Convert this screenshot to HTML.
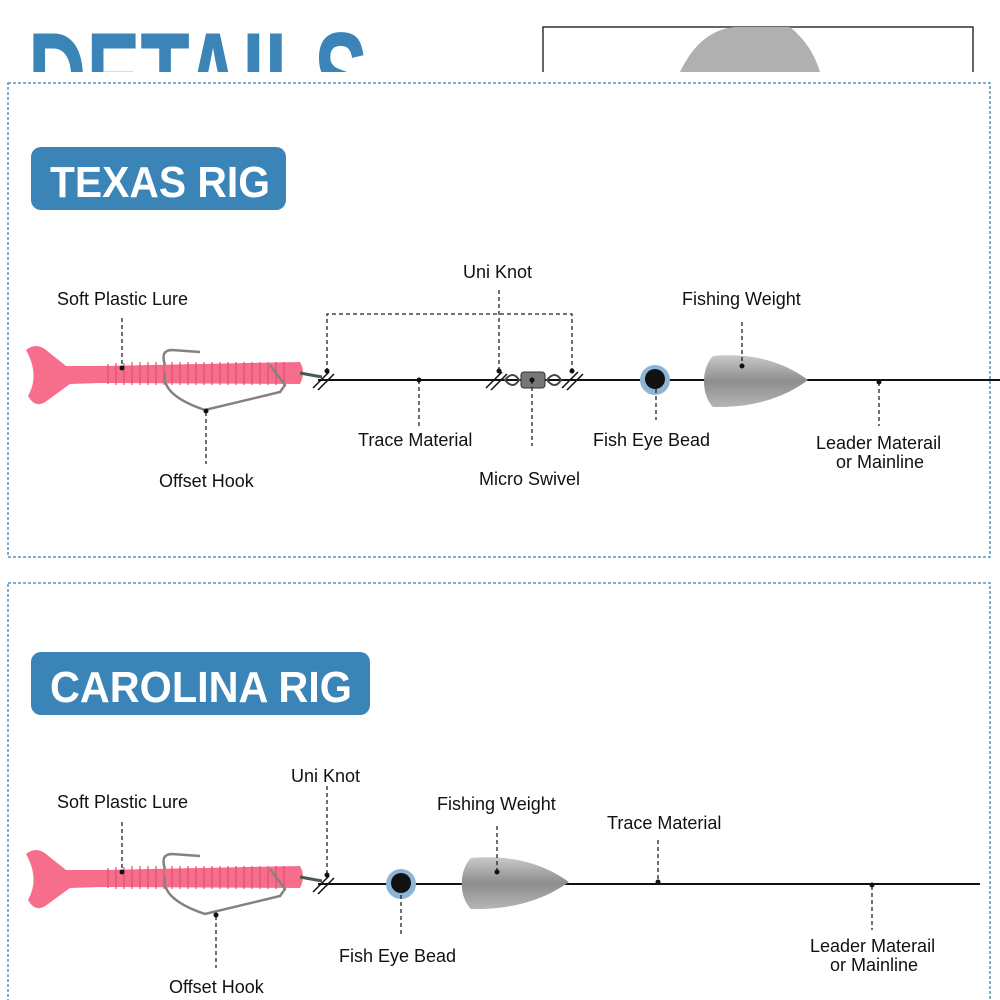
<!DOCTYPE html>
<html><head><meta charset="utf-8"><style>
html,body{margin:0;padding:0;background:#fff;width:1000px;height:1000px;overflow:hidden}
svg text{font-family:"Liberation Sans",Arial,sans-serif;font-size:18px;fill:#111}
.t{font-family:"Liberation Sans",sans-serif;font-weight:bold;fill:#fff;font-size:44px}
</style></head><body>
<svg width="1000" height="1000" viewBox="0 0 1000 1000" xmlns="http://www.w3.org/2000/svg">
<defs>
<linearGradient id="wg" x1="0" y1="0" x2="0" y2="1"><stop offset="0" stop-color="#c9c9c9"/><stop offset="0.5" stop-color="#8d8d8d"/><stop offset="1" stop-color="#b5b5b5"/></linearGradient>
<g id="lure">
<path d="M26,350 Q36,342 46,350 L66,366 L100,366 L300,362 Q306,372 300,384 L100,383 L70,384 L48,400 Q36,410 28,396 Q40,375 26,350Z" fill="#f76e8c"/>
<g stroke="#e04d70" stroke-width="1.2">
<path d="M108,364v20M116,363v22M124,363v22M132,362v23M140,362v23M148,362v23M156,362v23M164,362v23M172,362v23M180,362v23M188,362v23M196,362v23M204,362v23M212,362v23M220,362v23M228,362v23M236,362v23M244,362v23M252,362v23M260,362v23M268,362v23M276,362v23M284,362v23"/></g>
<path d="M165,365 Q160,350 172,350 L200,352 M165,372 Q160,395 205,410 L280,392 L285,385 L270,365" fill="none" stroke="#8a7f80" stroke-width="2.5"/>
<path d="M300,373 L322,377" stroke="#4a5a4a" stroke-width="3"/>
</g>
<path id="wt" d="M0,0 C45,-4 75,9 95,24 C75,39 45,52 0,51 C-12,39 -12,12 0,0Z"/>
</defs>
<rect width="1000" height="1000" fill="#fff"/>
<text x="28" y="100" style="font-family:'Liberation Sans',sans-serif;font-weight:bold;font-size:96px;fill:#3a84b8" textLength="340" lengthAdjust="spacingAndGlyphs" transform="scale(1,1.4) translate(0,-10)">DETAILS</text>
<rect x="543" y="27" width="430" height="60" fill="#fff" stroke="#333" stroke-width="1.5"/>
<path d="M680,72 Q700,30 735,27 L790,27 Q812,45 820,72Z" fill="#b0b0b0"/>
<rect x="0" y="72" width="1000" height="928" fill="#fff"/>
<rect x="8" y="83" width="982" height="474" fill="none" stroke="#5a93b8" stroke-width="1.5" stroke-dasharray="3,2"/>
<rect x="8" y="583" width="982" height="430" fill="none" stroke="#5a93b8" stroke-width="1.5" stroke-dasharray="3,2"/>
<rect x="31" y="147" width="255" height="63" rx="10" fill="#3a84b8"/>
<text class="t" x="50" y="197" textLength="220" lengthAdjust="spacingAndGlyphs">TEXAS RIG</text>
<rect x="31" y="652" width="339" height="63" rx="10" fill="#3a84b8"/>
<text class="t" x="50" y="702" textLength="302" lengthAdjust="spacingAndGlyphs">CAROLINA RIG</text>

<use href="#lure"/>
<line x1="318" y1="380" x2="1000" y2="380" stroke="#111" stroke-width="2"/>
<g stroke="#111" stroke-width="1.5"><path d="M313,388l16,-16M318,390l16,-16M486,388l16,-16M491,390l16,-16M562,388l16,-16M567,390l16,-16"/></g>
<g fill="none" stroke="#444" stroke-width="2"><path d="M505,380 q8,-10 14,0 q-6,10 -14,0Z M547,380 q8,-10 14,0 q-6,10 -14,0Z"/></g>
<rect x="521" y="372" width="24" height="16" rx="3" fill="#777" stroke="#333"/>
<circle cx="655" cy="380" r="15" fill="#8fb5d5"/><circle cx="655" cy="379" r="10" fill="#111"/>
<use href="#wt" transform="translate(713,356)" fill="url(#wg)"/>
<g stroke="#222" stroke-width="1.3" stroke-dasharray="4,3" fill="none">
<path d="M122,318v50M206,412v52M327,372v-58h245v58M499,290v82M419,380v46M532,380v66M656,382v38M742,322v44M879,382v44"/></g>
<g fill="#111"><circle cx="122" cy="368" r="2.5"/><circle cx="206" cy="411" r="2.5"/><circle cx="327" cy="371" r="2.5"/><circle cx="499" cy="371" r="2.5"/><circle cx="572" cy="371" r="2.5"/><circle cx="419" cy="380" r="2.5"/><circle cx="532" cy="380" r="2.5"/><circle cx="656" cy="382" r="2.5"/><circle cx="742" cy="366" r="2.5"/><circle cx="879" cy="382" r="2.5"/></g>
<text x="57" y="305">Soft Plastic Lure</text>
<text x="463" y="278">Uni Knot</text>
<text x="682" y="305">Fishing Weight</text>
<text x="358" y="446">Trace Material</text>
<text x="593" y="446">Fish Eye Bead</text>
<text x="816" y="449">Leader Materail</text>
<text x="836" y="468">or Mainline</text>
<text x="159" y="487">Offset Hook</text>
<text x="479" y="485">Micro Swivel</text>

<use href="#lure" transform="translate(0,504)"/>
<line x1="318" y1="884" x2="980" y2="884" stroke="#111" stroke-width="2"/>
<g stroke="#111" stroke-width="1.5"><path d="M313,892l16,-16M318,894l16,-16"/></g>
<circle cx="401" cy="884" r="15" fill="#8fb5d5"/><circle cx="401" cy="883" r="10" fill="#111"/>
<use href="#wt" transform="translate(471,858) scale(1.03,1)" fill="url(#wg)"/>
<g stroke="#222" stroke-width="1.3" stroke-dasharray="4,3" fill="none">
<path d="M122,822v50M216,916v52M327,786v90M401,888v48M497,826v46M658,840v42M872,886v44"/></g>
<g fill="#111"><circle cx="122" cy="872" r="2.5"/><circle cx="216" cy="915" r="2.5"/><circle cx="327" cy="875" r="2.5"/><circle cx="401" cy="888" r="2.5"/><circle cx="497" cy="872" r="2.5"/><circle cx="658" cy="882" r="2.5"/><circle cx="872" cy="885" r="2.5"/></g>
<text x="57" y="808">Soft Plastic Lure</text>
<text x="291" y="782">Uni Knot</text>
<text x="437" y="810">Fishing Weight</text>
<text x="607" y="829">Trace Material</text>
<text x="339" y="962">Fish Eye Bead</text>
<text x="810" y="952">Leader Materail</text>
<text x="830" y="971">or Mainline</text>
<text x="169" y="993">Offset Hook</text>
</svg>
</body></html>
